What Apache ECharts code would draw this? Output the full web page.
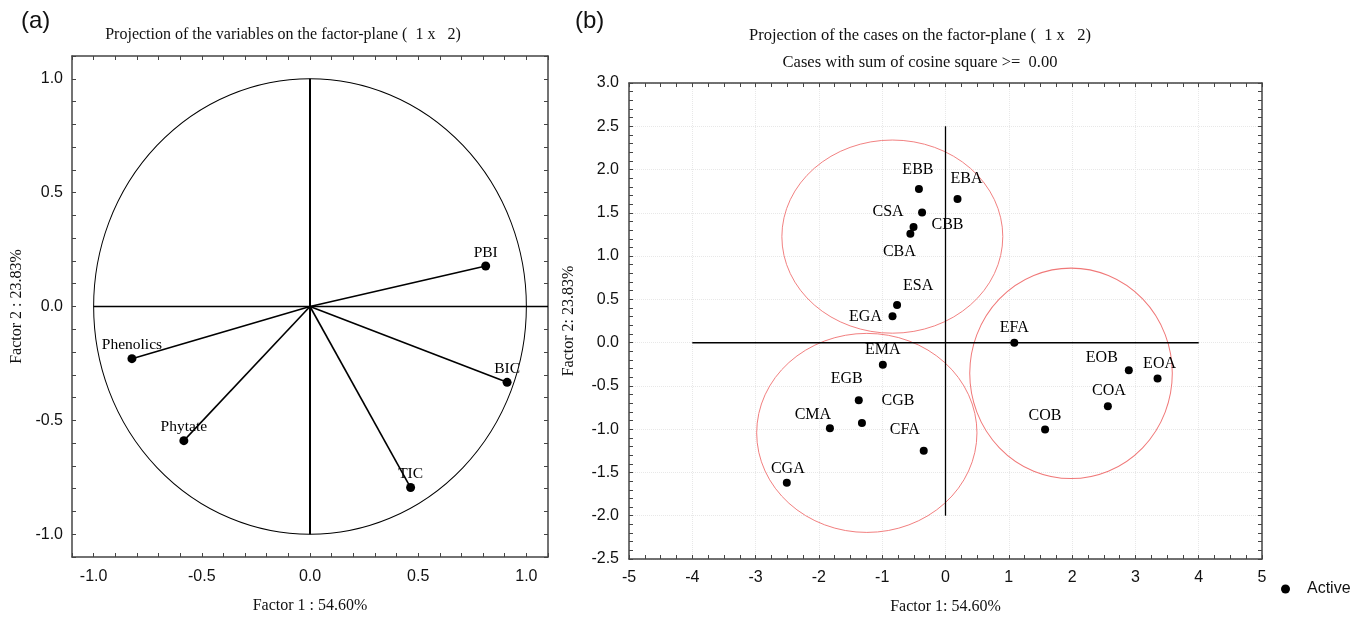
<!DOCTYPE html>
<html>
<head>
  <meta charset="UTF-8">
  <title>PCA factor-plane</title>
  <style>
    html, body { margin: 0; padding: 0; background: #fff; }
    #chart { width: 1355px; height: 617px; }
  </style>
</head>
<body>
  <div id="chart"></div>
  <script src="https://cdn.jsdelivr.net/npm/echarts@6/dist/echarts.min.js"></script>
  <script>
    // (a) variables: factor coordinates
    const varNames = ['PBI', 'BIC', 'TIC', 'Phytate', 'Phenolics'];
    const varF1 = [0.812, 0.911, 0.465, -0.583, -0.823];
    const varF2 = [0.178, -0.333, -0.795, -0.589, -0.229];

    // (b) cases: factor coordinates
    const caseNames = ['EBB', 'EBA', 'CSA', 'CBB', 'CBA', 'ESA', 'EGA', 'EFA', 'EMA',
      'EOB', 'EOA', 'EGB', 'COA', 'CGB', 'CMA', 'COB', 'CFA', 'CGA'];
    const caseF1 = [-0.42, 0.19, -0.37, -0.505, -0.555, -0.765, -0.837, 1.087, -0.99,
      2.896, 3.35, -1.37, 2.565, -1.32, -1.826, 1.573, -0.344, -2.507];
    const caseF2 = [1.775, 1.66, 1.505, 1.335, 1.258, 0.434, 0.306, 0.0, -0.256,
      -0.318, -0.414, -0.665, -0.734, -0.93, -0.988, -1.004, -1.25, -1.62];

    // groups drawn by hand around the cases (centre and radii in factor units)
    const groupF1 = [-0.84, -1.243, 1.983];
    const groupF2 = [1.225, -1.043, -0.355];
    const groupR1 = [1.745, 1.74, 1.60];
    const groupR2 = [1.116, 1.15, 1.216];

    // reference lines
    const crossA = { h: [[-1.0, 0], [1.1, 0]], v: [[0, 1.0], [0, -1.0]] };
    const crossB = { h: [[-4, 0], [4, 0]], v: [[0, 2.5], [0, -2.0]] };

    // label offsets for the case labels (pixels)
    const caseLabelOffset = {
      EBB: [-1, -19], EBA: [9, -20], CSA: [-34, -1], CBB: [34, -2], CBA: [-11, 18],
      ESA: [21, -19], EGA: [-27, 1], EFA: [0, -15], EMA: [0, -15], EOB: [-27, -12],
      EOA: [2, -15], EGB: [-12, -21], COA: [1, -15], CGB: [36, -22], CMA: [-17, -13],
      COB: [0, -14], CFA: [-19, -21], CGA: [1, -14]
    };

    const serif = '"Liberation Serif", "Times New Roman", serif';
    const sans = '"Liberation Sans", Arial, sans-serif';
    const frame = '#444';

    function halfFmt(v) {
      const h = v * 2;
      return Math.abs(h - Math.round(h)) < 1e-6 ? v.toFixed(1) : '';
    }

    function makeAxis(opts) {
      const a = {
        type: 'value',
        gridIndex: opts.grid,
        position: opts.pos,
        min: opts.min,
        max: opts.max,
        interval: opts.interval,
        axisLine: { show: true, onZero: false, lineStyle: { color: frame, width: 1.5 } },
        axisTick: { show: true, inside: true, length: 4, lineStyle: { color: frame } },
        axisLabel: {
          show: !!opts.label,
          formatter: opts.fmt,
          margin: opts.margin || 10,
          fontSize: 16,
          fontFamily: sans,
          color: '#111'
        },
        splitLine: opts.split
          ? { show: true, lineStyle: { color: '#e8e8e8', type: 'dotted' } }
          : { show: false }
      };
      if (opts.minor) {
        a.minorTick = { show: true, splitNumber: opts.minor, length: 4, lineStyle: { color: frame } };
      }
      if (opts.name) {
        a.name = opts.name;
        a.nameLocation = 'middle';
        a.nameGap = opts.nameGap;
        a.nameTextStyle = { fontFamily: serif, fontSize: 16, color: '#111' };
      }
      return a;
    }

    const chart = echarts.init(document.getElementById('chart'));

    const varData = varNames.map((n, i) => [varF1[i], varF2[i], n]);
    const caseData = caseNames.map((n, i) => ({
      value: [caseF1[i], caseF2[i]],
      name: n,
      label: { offset: caseLabelOffset[n] }
    }));
    const groupData = groupF1.map((x, i) => [x, groupF2[i], groupR1[i], groupR2[i]]);

    function ellipseItem(color, width) {
      return function (params, api) {
        const c = api.coord([api.value(0), api.value(1)]);
        const s = api.size([api.value(2), api.value(3)]);
        return {
          type: 'circle',
          x: c[0],
          y: c[1],
          scaleY: s[1] / s[0],
          shape: { cx: 0, cy: 0, r: s[0] },
          style: { fill: 'none', stroke: color, lineWidth: width, strokeNoScale: true },
          silent: true
        };
      };
    }

    function refLine(data, x, y, width) {
      return {
        type: 'line', xAxisIndex: x, yAxisIndex: y, data: data,
        symbol: 'none', silent: true,
        lineStyle: { color: '#000', width: width }
      };
    }

    const titleStyle = size => ({ fontFamily: serif, fontSize: size, fontWeight: 'normal', color: '#111' });

    const option = {
      animation: false,
      title: [
        { text: '(a)', left: 16, top: 4, textStyle: { fontFamily: sans, fontSize: 24, fontWeight: 'normal', color: '#111' } },
        { text: '(b)', left: 570, top: 4, textStyle: { fontFamily: sans, fontSize: 24, fontWeight: 'normal', color: '#111' } },
        { text: 'Projection of the variables on the factor-plane (  1 x   2)', left: 278, top: 22, textAlign: 'center',
          textStyle: titleStyle(16) },
        { text: 'Projection of the cases on the factor-plane (  1 x   2)', left: 915, top: 22, textAlign: 'center',
          textStyle: titleStyle(16.5) },
        { text: 'Cases with sum of cosine square >=  0.00', left: 915, top: 49, textAlign: 'center',
          textStyle: titleStyle(16.5) }
      ],
      legend: {
        data: ['Active'],
        left: 1276,
        top: 576,
        icon: 'circle',
        itemWidth: 9,
        itemHeight: 9,
        textStyle: { fontFamily: sans, fontSize: 16, color: '#111', padding: [0, 0, 0, 12] }
      },
      grid: [
        { left: 72, top: 56, right: 807, bottom: 60, containLabel: false, outerBoundsMode: 'none' },
        { left: 629, top: 83, right: 93, bottom: 58, containLabel: false, outerBoundsMode: 'none' }
      ],
      xAxis: [
        makeAxis({ grid: 0, pos: 'bottom', min: -1.1, max: 1.1, interval: 0.1, label: true, fmt: halfFmt, margin: 12,
          name: 'Factor 1 : 54.60%', nameGap: 41 }),
        makeAxis({ grid: 0, pos: 'top', min: -1.1, max: 1.1, interval: 0.1 }),
        makeAxis({ grid: 1, pos: 'bottom', min: -5, max: 5, interval: 1, minor: 4, label: true, margin: 11, split: true,
          name: 'Factor 1: 54.60%', nameGap: 40 }),
        makeAxis({ grid: 1, pos: 'top', min: -5, max: 5, interval: 1, minor: 4 })
      ],
      yAxis: [
        makeAxis({ grid: 0, pos: 'left', min: -1.1, max: 1.1, interval: 0.1, label: true, fmt: halfFmt, margin: 9,
          name: 'Factor 2 : 23.83%', nameGap: 47 }),
        makeAxis({ grid: 0, pos: 'right', min: -1.1, max: 1.1, interval: 0.1 }),
        makeAxis({ grid: 1, pos: 'left', min: -2.5, max: 3, interval: 0.5, minor: 5, label: true,
          fmt: v => v.toFixed(1), margin: 10, split: true,
          name: 'Factor 2: 23.83%', nameGap: 52 }),
        makeAxis({ grid: 1, pos: 'right', min: -2.5, max: 3, interval: 0.5, minor: 5 })
      ],
      series: [
        // (a) unit circle
        {
          type: 'custom', xAxisIndex: 0, yAxisIndex: 0,
          data: [[0, 0, 1, 1]],
          renderItem: ellipseItem('#000', 1),
          silent: true
        },
        refLine(crossA.h, 0, 0, 1.5),
        refLine(crossA.v, 0, 0, 2),
        // (a) vectors
        {
          type: 'custom', xAxisIndex: 0, yAxisIndex: 0,
          data: varData,
          encode: { x: 0, y: 1 },
          silent: true,
          renderItem: function (params, api) {
            const p0 = api.coord([0, 0]);
            const p1 = api.coord([api.value(0), api.value(1)]);
            return {
              type: 'line',
              shape: { x1: p0[0], y1: p0[1], x2: p1[0], y2: p1[1] },
              style: { stroke: '#000', lineWidth: 1.6 }
            };
          }
        },
        {
          name: 'Variables',
          type: 'scatter', xAxisIndex: 0, yAxisIndex: 0,
          data: varData,
          symbolSize: 9,
          itemStyle: { color: '#000', opacity: 1 },
          label: {
            show: true, position: 'top', distance: 1,
            formatter: p => p.value[2],
            fontFamily: serif, fontSize: 15.5, color: '#000'
          }
        },
        // (b) group ellipses
        {
          type: 'custom', xAxisIndex: 2, yAxisIndex: 2,
          data: groupData,
          encode: { x: 0, y: 1 },
          renderItem: ellipseItem('#f07878', 1),
          silent: true
        },
        refLine(crossB.h, 2, 2, 1.5),
        refLine(crossB.v, 2, 2, 1.3),
        {
          name: 'Active',
          type: 'scatter', xAxisIndex: 2, yAxisIndex: 2,
          data: caseData,
          symbolSize: 8,
          itemStyle: { color: '#000', opacity: 1 },
          label: {
            show: true, position: 'inside',
            formatter: p => p.name,
            fontFamily: serif, fontSize: 16, color: '#000'
          }
        }
      ]
    };

    chart.setOption(option);
  </script>
</body>
</html>
